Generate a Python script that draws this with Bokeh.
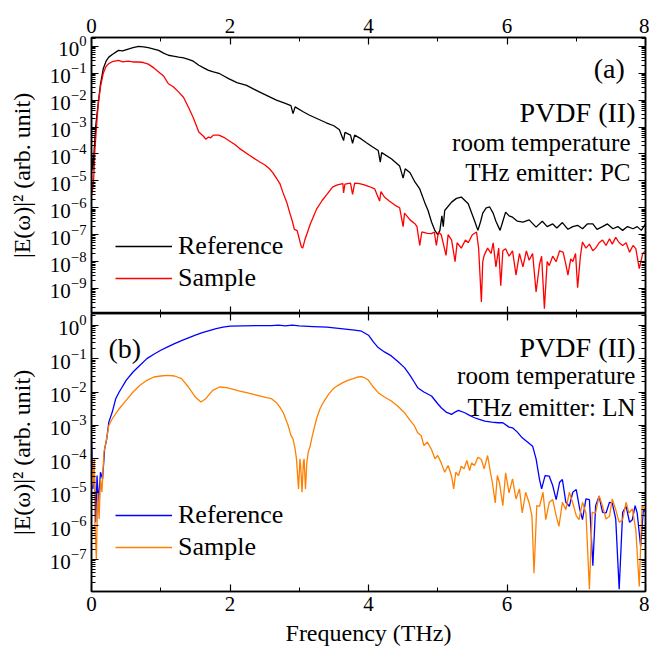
import numpy as np
from bokeh.plotting import figure
from bokeh.models import (LinearAxis, LogAxis, FixedTicker, Legend, LegendItem,
                          Label, Range1d)
from bokeh.layouts import column
from bokeh.embed import file_html
from bokeh.resources import INLINE

FONT = "Liberation Serif"

# ---------------- data (log10 of |E(w)|^2) ----------------
freq_ref_a = [0.00, 0.02, 0.04, 0.06, 0.08, 0.10, 0.13, 0.17, 0.21, 0.25, 0.30, 0.39, 0.45, 0.53, 0.60,
              0.68, 0.75, 0.82, 0.90, 0.97, 1.04, 1.11, 1.18, 1.26, 1.33, 1.40, 1.47, 1.55, 1.62, 1.69,
              1.76, 1.84, 1.91, 1.98, 2.10, 2.24, 2.35, 2.43, 2.55, 2.67, 2.78, 2.88, 2.91, 2.94, 3.05,
              3.15, 3.27, 3.39, 3.50, 3.58, 3.64, 3.66, 3.74, 3.77, 3.80, 3.90, 3.97, 4.05, 4.14, 4.17,
              4.19, 4.33, 4.45, 4.50, 4.53, 4.60, 4.67, 4.74, 4.81, 4.86, 4.91, 4.96, 5.00, 5.03, 5.06,
              5.08, 5.10, 5.20, 5.27, 5.34, 5.44, 5.53, 5.58, 5.62, 5.65, 5.70, 5.75, 5.80, 5.84, 5.90,
              5.94, 5.98, 6.03, 6.08, 6.15, 6.23, 6.32, 6.42, 6.51, 6.58, 6.66, 6.72, 6.80, 6.88, 6.95,
              7.02, 7.09, 7.16, 7.24, 7.30, 7.38, 7.45, 7.53, 7.60, 7.67, 7.74, 7.82, 7.88, 7.94, 8.00]
log_ref_a = [-4.0, -4.6, -3.8, -3.0, -2.5, -2.05, -1.4, -0.83, -0.55, -0.4, -0.3, -0.15, -0.17, -0.1, -0.05,
             0.0, -0.02, -0.05, -0.1, -0.15, -0.25, -0.33, -0.36, -0.4, -0.43, -0.48, -0.55, -0.7, -0.8, -0.89,
             -0.95, -1.0, -1.1, -1.2, -1.35, -1.45, -1.6, -1.7, -1.85, -2.0, -2.1, -2.2, -2.5, -2.25, -2.42,
             -2.56, -2.7, -2.84, -2.95, -3.1, -3.5, -3.2, -3.3, -3.6, -3.3, -3.45, -3.58, -3.72, -3.87, -4.3,
             -3.95, -4.18, -4.45, -4.9, -4.55, -4.7, -5.04, -5.3, -5.79, -6.1, -6.53, -6.85, -7.0, -6.85, -6.3,
             -6.7, -6.1, -5.79, -5.65, -5.6, -5.85, -6.47, -6.84, -6.5, -6.2, -6.0, -5.97, -6.2, -6.5, -6.84,
             -6.5, -6.16, -6.3, -6.35, -6.5, -6.53, -6.45, -6.72, -6.5, -6.7, -6.6, -6.75, -6.55, -6.8, -6.7,
             -6.65, -6.78, -6.6, -6.6, -6.8, -6.7, -6.6, -6.78, -6.7, -6.84, -6.7, -6.78, -6.7, -6.84, -6.6]

freq_sam_a = [0.00, 0.01, 0.03, 0.05, 0.08, 0.10, 0.13, 0.17, 0.21, 0.25, 0.30, 0.39, 0.45, 0.53, 0.60,
              0.68, 0.75, 0.82, 0.90, 0.97, 1.04, 1.11, 1.18, 1.26, 1.33, 1.40, 1.47, 1.55, 1.62, 1.65,
              1.69, 1.72, 1.76, 1.84, 1.91, 1.98, 2.07, 2.14, 2.28, 2.43, 2.50, 2.57, 2.62, 2.67, 2.72,
              2.76, 2.82, 2.86, 2.90, 2.93, 2.97, 3.00, 3.03, 3.05, 3.08, 3.12, 3.16, 3.21, 3.25, 3.33,
              3.40, 3.48, 3.55, 3.63, 3.64, 3.66, 3.74, 3.77, 3.80, 3.87, 3.94, 4.00, 4.09, 4.16, 4.18,
              4.23, 4.30, 4.38, 4.45, 4.50, 4.52, 4.60, 4.67, 4.70, 4.74, 4.77, 4.85, 4.91, 4.95, 4.98,
              5.01, 5.05, 5.12, 5.15, 5.20, 5.25, 5.28, 5.34, 5.40, 5.44, 5.50, 5.56, 5.59, 5.63, 5.65,
              5.67, 5.72, 5.77, 5.80, 5.84, 5.88, 5.91, 5.94, 5.98, 6.03, 6.08, 6.13, 6.18, 6.23, 6.28,
              6.32, 6.37, 6.42, 6.47, 6.50, 6.54, 6.58, 6.61, 6.66, 6.71, 6.76, 6.81, 6.85, 6.88, 6.92,
              6.95, 6.99, 7.02, 7.06, 7.09, 7.14, 7.19, 7.24, 7.28, 7.33, 7.38, 7.43, 7.48, 7.52, 7.57,
              7.62, 7.67, 7.72, 7.77, 7.82, 7.86, 7.91, 7.96, 8.00]
log_sam_a = [-4.5, -5.46, -5.0, -3.8, -2.7, -2.1, -1.5, -1.0, -0.75, -0.64, -0.57, -0.52, -0.58, -0.55, -0.58,
             -0.58, -0.6, -0.66, -0.8, -0.95, -1.1, -1.39, -1.5, -1.7, -1.9, -2.26, -2.65, -3.18, -3.35, -3.45,
             -3.37, -3.4, -3.3, -3.3, -3.38, -3.5, -3.65, -3.8, -4.05, -4.3, -4.4, -4.55, -4.7, -4.9, -5.1,
             -5.4, -5.8, -6.16, -6.5, -6.8, -6.85, -7.15, -7.45, -7.5, -7.2, -6.9, -6.6, -6.3, -6.05, -5.73,
             -5.5, -5.23, -5.15, -5.1, -5.45, -5.12, -5.08, -5.5, -5.08, -5.1, -5.15, -5.2, -5.3, -5.75, -5.4,
             -5.6, -5.75, -5.9, -6.0, -6.7, -6.2, -6.45, -6.59, -6.7, -7.4, -6.9, -6.95, -6.96, -6.9, -7.4,
             -6.9, -7.0, -7.77, -7.0, -7.2, -8.0, -7.3, -7.5, -7.2, -7.3, -7.0, -6.9, -7.5, -9.5, -8.0,
             -7.77, -7.5, -7.7, -7.3, -8.2, -7.5, -8.9, -7.6, -7.52, -7.8, -7.6, -8.5, -7.7, -8.2, -7.6,
             -7.95, -7.7, -9.13, -8.1, -7.8, -9.75, -8.0, -8.15, -7.8, -8.0, -7.6, -7.65, -8.1, -8.5, -7.9,
             -8.0, -7.7, -8.97, -7.8, -7.27, -7.5, -7.35, -7.6, -7.5, -7.3, -7.2, -7.4, -7.15, -7.35, -7.1,
             -7.3, -7.4, -7.3, -7.65, -7.4, -7.52, -8.26, -7.7, -7.6]

freq_ref_b = [0.00, 0.02, 0.04, 0.06, 0.08, 0.10, 0.13, 0.16, 0.19, 0.22, 0.25, 0.30, 0.35, 0.40, 0.50,
              0.60, 0.70, 0.80, 0.90, 1.00, 1.10, 1.20, 1.30, 1.40, 1.50, 1.60, 1.70, 1.80, 1.90, 2.00,
              2.20, 2.40, 2.60, 2.70, 2.80, 2.90, 3.00, 3.20, 3.40, 3.60, 3.80, 3.90, 4.00, 4.07, 4.14,
              4.23, 4.33, 4.42, 4.52, 4.60, 4.66, 4.71, 4.80, 4.91, 5.00, 5.05, 5.12, 5.20, 5.25, 5.30,
              5.39, 5.46, 5.53, 5.60, 5.68, 5.78, 5.87, 5.94, 6.03, 6.08, 6.15, 6.22, 6.30, 6.37, 6.42,
              6.47, 6.50, 6.55, 6.61, 6.66, 6.71, 6.76, 6.80, 6.85, 6.90, 6.95, 7.00, 7.05, 7.09, 7.14,
              7.19, 7.24, 7.28, 7.33, 7.38, 7.43, 7.48, 7.52, 7.57, 7.62, 7.67, 7.72, 7.77, 7.81, 7.85,
              7.88, 7.93, 7.97, 8.00]
log_ref_b = [-3.3, -4.9, -4.3, -5.9, -4.5, -5.3, -4.4, -4.6, -3.7, -3.4, -2.9, -2.6, -2.2, -2.0, -1.65,
             -1.4, -1.2, -1.0, -0.87, -0.75, -0.65, -0.55, -0.46, -0.38, -0.3, -0.22, -0.16, -0.1, -0.06, -0.03,
             -0.02, -0.01, -0.01, 0.0, -0.02, 0.0, -0.02, -0.04, -0.06, -0.1, -0.15, -0.18, -0.3, -0.5, -0.67,
             -0.8, -0.92, -1.08, -1.27, -1.5, -1.7, -1.87, -2.0, -2.12, -2.35, -2.47, -2.6, -2.67, -2.6, -2.55,
             -2.62, -2.7, -2.77, -2.82, -2.87, -2.9, -2.92, -2.92, -3.05, -3.07, -3.2, -3.37, -3.5, -3.62, -4.0,
             -4.62, -4.9, -4.5, -4.52, -4.8, -5.22, -4.7, -4.62, -5.3, -5.42, -5.0, -4.92, -5.5, -5.82, -5.2,
             -5.22, -7.2, -5.4, -5.12, -5.6, -5.62, -5.3, -5.32, -5.8, -7.9, -5.6, -5.42, -5.9, -5.82, -5.4,
             -5.62, -6.62, -5.5, -5.6]

freq_sam_b = [0.00, 0.02, 0.04, 0.05, 0.07, 0.09, 0.11, 0.13, 0.15, 0.18, 0.21, 0.25, 0.30, 0.40, 0.50,
              0.60, 0.70, 0.80, 0.90, 1.00, 1.10, 1.20, 1.30, 1.40, 1.50, 1.58, 1.65, 1.75, 1.85, 1.95,
              2.05, 2.14, 2.24, 2.34, 2.44, 2.53, 2.60, 2.67, 2.72, 2.77, 2.84, 2.88, 2.91, 2.94, 2.96,
              2.99, 3.01, 3.02, 3.04, 3.06, 3.07, 3.09, 3.11, 3.13, 3.16, 3.19, 3.25, 3.30, 3.35, 3.42,
              3.49, 3.56, 3.63, 3.70, 3.78, 3.85, 3.90, 3.95, 4.00, 4.07, 4.14, 4.23, 4.33, 4.42, 4.52,
              4.60, 4.66, 4.71, 4.76, 4.80, 4.85, 4.91, 4.96, 5.00, 5.05, 5.10, 5.15, 5.20, 5.23, 5.26,
              5.30, 5.34, 5.38, 5.42, 5.46, 5.49, 5.53, 5.58, 5.63, 5.67, 5.72, 5.76, 5.79, 5.83, 5.86,
              5.89, 5.94, 5.98, 6.03, 6.08, 6.13, 6.18, 6.22, 6.27, 6.32, 6.36, 6.39, 6.43, 6.47, 6.52,
              6.56, 6.61, 6.66, 6.71, 6.75, 6.80, 6.85, 6.90, 6.95, 7.00, 7.04, 7.09, 7.14, 7.19, 7.23,
              7.28, 7.33, 7.38, 7.43, 7.48, 7.52, 7.57, 7.62, 7.67, 7.72, 7.76, 7.81, 7.86, 7.91, 7.95,
              8.00]
log_sam_b = [-3.9, -4.8, -4.0, -6.0, -7.0, -5.0, -5.8, -4.6, -5.0, -3.8, -3.5, -3.0, -2.8, -2.5, -2.25,
             -2.0, -1.8, -1.65, -1.55, -1.52, -1.5, -1.52, -1.6, -1.85, -2.15, -2.3, -2.2, -1.95, -1.85, -1.87,
             -1.92, -1.97, -2.02, -2.07, -2.12, -2.17, -2.2, -2.32, -2.45, -2.62, -3.0, -3.3, -3.4, -3.7, -4.0,
             -4.9, -4.0, -4.2, -5.0, -4.1, -4.0, -4.9, -4.1, -3.8, -3.6, -3.3, -2.8, -2.5, -2.3, -2.08,
             -1.9, -1.8, -1.72, -1.65, -1.6, -1.55, -1.54, -1.58, -1.65, -1.85, -2.02, -2.15, -2.27, -2.42, -2.62,
             -2.85, -3.0, -3.22, -3.3, -3.6, -3.5, -3.72, -4.0, -3.9, -4.12, -4.4, -4.2, -4.52, -4.9, -4.4,
             -4.5, -4.22, -4.3, -4.05, -4.35, -4.12, -4.2, -3.95, -4.02, -4.3, -3.9, -4.4, -4.72, -5.32, -4.5,
             -4.7, -5.4, -4.42, -5.02, -4.6, -5.2, -4.9, -5.62, -5.0, -5.32, -5.7, -7.42, -5.4, -5.42, -5.0,
             -5.82, -5.3, -5.22, -5.7, -6.02, -5.3, -5.52, -5.0, -5.32, -5.7, -5.82, -5.3, -5.62, -7.9, -5.6,
             -5.62, -5.1, -5.42, -5.8, -5.72, -5.2, -5.52, -5.9, -5.82, -5.3, -5.62, -5.5, -6.12, -7.82, -5.4,
             -5.52]

x_major = [0, 2, 4, 6, 8]
x_minor = [1, 3, 5, 7]


def to_lin(logs):
    return [10.0 ** v for v in logs]


def log_ticks(lo, hi):
    major = [10.0 ** k for k in range(lo, hi + 1)]
    minor = [m * 10.0 ** k for k in range(lo - 1, hi + 1) for m in range(2, 10)]
    return major, minor


def style_axis(ax, labels=True):
    ax.axis_line_width = 1.5
    ax.axis_line_color = "black"
    ax.major_tick_in = 7
    ax.major_tick_out = 0
    ax.minor_tick_in = 4
    ax.minor_tick_out = 0
    ax.major_tick_line_width = 1.2
    ax.minor_tick_line_width = 1
    ax.major_tick_line_color = "black"
    ax.minor_tick_line_color = "black"
    ax.major_label_text_font = FONT
    ax.axis_label_text_font = FONT
    ax.axis_label_text_font_style = "normal"
    ax.axis_label_text_font_size = "24px"
    ax.axis_label_text_color = "black"
    if labels:
        ax.major_label_text_font_size = "21px"
        ax.major_label_text_color = "black"
        ax.major_label_standoff = 5
    else:
        # tick marks only: labels are not drawn
        ax.major_label_text_font_size = "1px"
        ax.major_label_text_color = None
        ax.major_label_standoff = 0


def make_panel(height, ylog_lo, ylog_hi, dec_lo, top_border, bottom_border, xloc):
    p = figure(width=649, height=height, x_range=Range1d(0, 8),
               y_range=Range1d(10 ** ylog_lo, 10 ** ylog_hi), y_axis_type="log",
               output_backend="svg", toolbar_location=None,
               min_border_left=91, min_border_right=4,
               min_border_top=top_border, min_border_bottom=bottom_border,
               x_axis_location=xloc)
    p.xgrid.visible = False
    p.ygrid.visible = False
    p.outline_line_color = "black"
    p.outline_line_width = 1.5
    p.background_fill_color = "white"
    p.border_fill_color = "white"
    major, minor = log_ticks(dec_lo, 0)
    p.yaxis.ticker = FixedTicker(ticks=major, minor_ticks=minor)
    p.xaxis.ticker = FixedTicker(ticks=x_major, minor_ticks=x_minor)
    for ax in p.yaxis:
        style_axis(ax, True)
        ax.axis_label = "|E(ω)|² (arb. unit)"
        ax.axis_label_standoff = 12
    main_x = p.above[0] if xloc == "above" else p.below[0]
    style_axis(main_x, True)
    right = LogAxis(ticker=FixedTicker(ticks=major, minor_ticks=minor))
    style_axis(right, False)
    p.add_layout(right, "right")
    other = LinearAxis(ticker=FixedTicker(ticks=x_major, minor_ticks=x_minor))
    style_axis(other, False)
    p.add_layout(other, "below" if xloc == "above" else "above")
    return p, main_x


def add_legend(p, r1, r2, loc):
    leg = Legend(items=[LegendItem(label="Reference", renderers=[r1]),
                        LegendItem(label="Sample", renderers=[r2])],
                 location=loc, label_text_font=FONT, label_text_font_size="26px",
                 label_text_color="black",
                 glyph_width=57, glyph_height=20, label_standoff=6, spacing=2,
                 padding=0, margin=0, background_fill_alpha=0, border_line_alpha=0)
    p.add_layout(leg)


def add_text(p, x, ylog, text, size, align="right"):
    p.add_layout(Label(x=x, y=10 ** ylog, text=text, text_font=FONT, text_font_size=size,
                       text_align=align, text_baseline="alphabetic", text_color="black"))


# ---------------- panel (a) ----------------
pa, xa = make_panel(313, -9.93, 0.33, -9, 37, 0, "above")
ra = pa.line(freq_ref_a, to_lin(log_ref_a), line_color="black", line_width=1.3)
sa = pa.line(freq_sam_a, to_lin(log_sam_a), line_color="#ff0000", line_width=1.3)
add_legend(pa, ra, sa, (24, 20))
add_text(pa, 7.70, -0.82, "(a)", "28px")
add_text(pa, 7.855, -2.45, "PVDF (II)", "28px")
add_text(pa, 7.783, -3.57, "room temperature", "25px")
add_text(pa, 7.783, -4.68, "THz emitter: PC", "25px")

# ---------------- panel (b) ----------------
pb, xb = make_panel(337, -7.97, 0.35, -7, 0, 59, "below")
xb.axis_label = "Frequency (THz)"
xb.axis_label_standoff = 6
rb = pb.line(freq_ref_b, to_lin(log_ref_b), line_color="#0000ff", line_width=1.3)
sb = pb.line(freq_sam_b, to_lin(log_sam_b), line_color="#ff8000", line_width=1.3)
add_legend(pb, rb, sb, (24, 29))
add_text(pb, 0.245, -0.70, "(b)", "28px", align="left")
add_text(pb, 7.855, -0.67, "PVDF (II)", "28px")
add_text(pb, 7.855, -1.51, "room temperature", "25px")
add_text(pb, 7.855, -2.47, "THz emitter: LN", "25px")

layout = column(pa, pb, spacing=0)
open("out.html", "w").write(file_html(layout, INLINE))
